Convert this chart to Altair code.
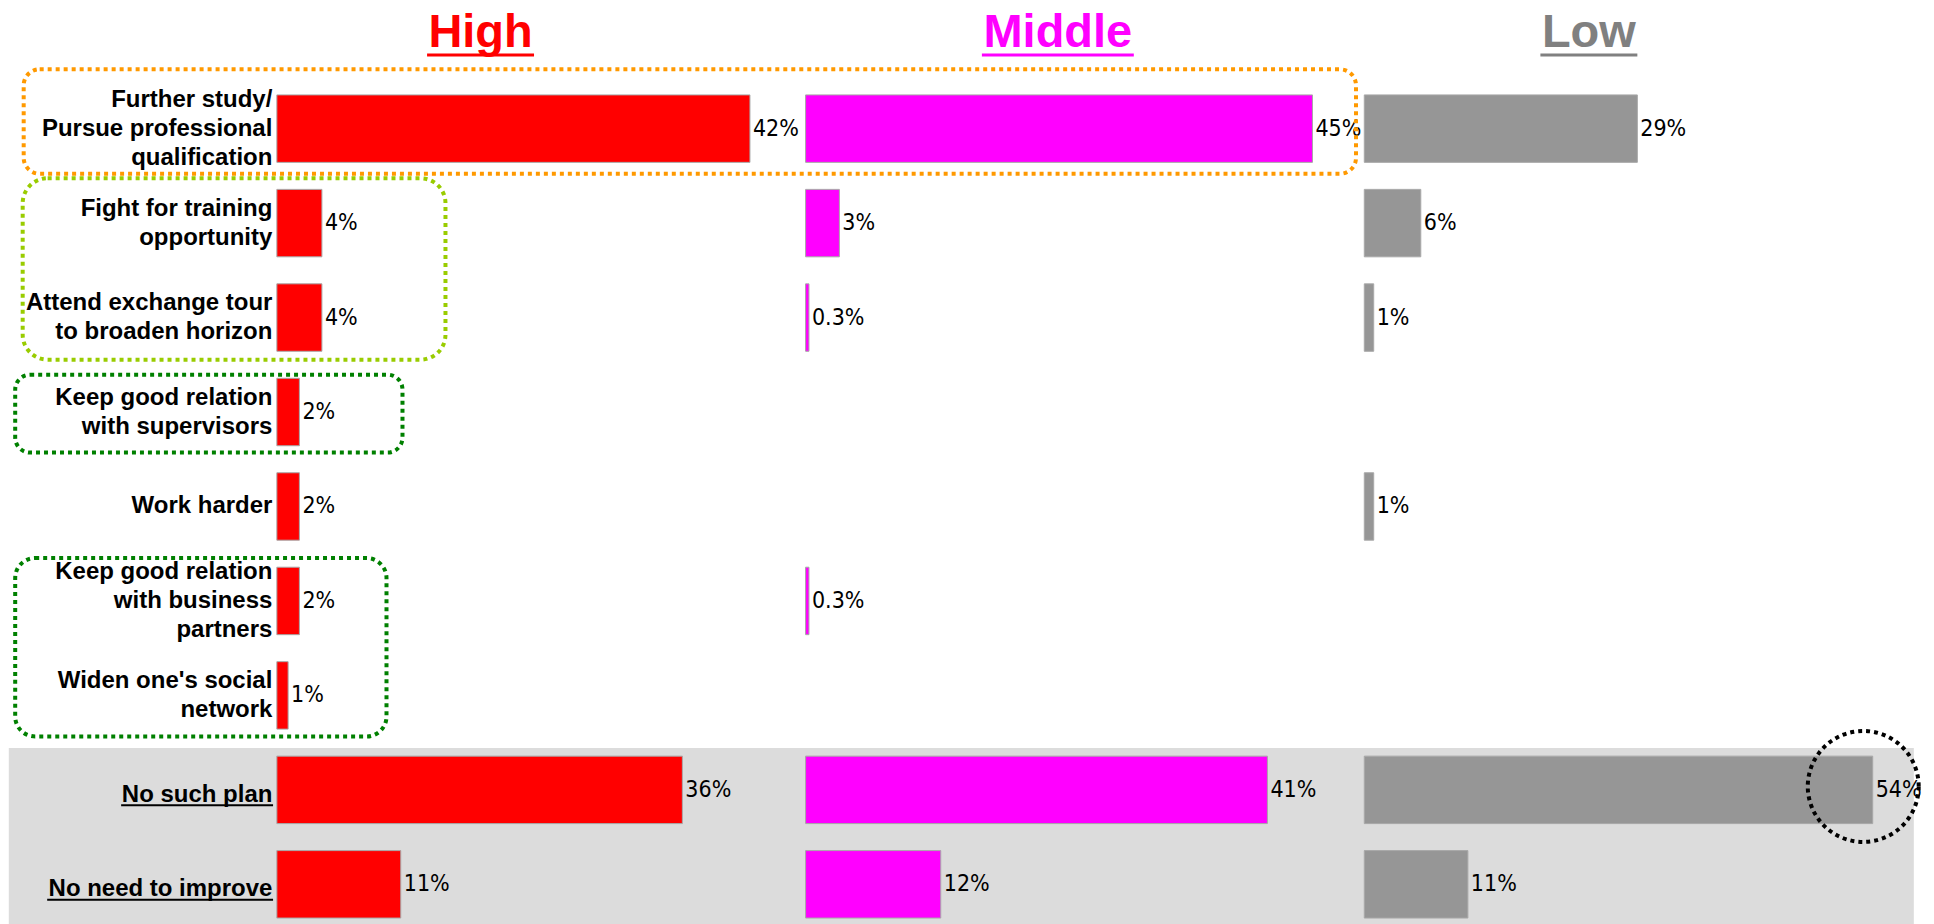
import altair as alt
import pandas as pd

# ---------------- data ----------------
categories = [
    "Further study/\nPursue professional\nqualification",
    "Fight for training\nopportunity",
    "Attend exchange tour\nto broaden horizon",
    "Keep good relation\nwith supervisors",
    "Work harder",
    "Keep good relation\nwith business\npartners",
    "Widen one's social\nnetwork",
    "No such plan",
    "No need to improve",
]
underlined = ["No such plan", "No need to improve"]
groups = ["High", "Middle", "Low"]
high = [42, 4, 4, 2, 2, 2, 1, 36, 11]
middle = [45, 3, 0.3, None, None, 0.3, None, 41, 12]
low = [29, 6, 1, None, 1, None, None, 54, 11]
series = [high, middle, low]

# ---------------- style / layout ----------------
bar_colors = ["#ff0000", "#ff00ff", "#969696"]
title_colors = ["#ff0000", "#ff00ff", "#808080"]
LABEL_FONT = "Liberation Sans, Arial, sans-serif"
NUM_FONT = "DejaVu Sans Condensed, Liberation Sans Narrow, sans-serif"
NUM_SIZE = 23
LINE_H = 29

PAGE_W, PAGE_H = 1934, 924
ORIGIN_Y = 89.4
PANEL_X = [276.5, 805.3, 1364.3]
PANEL_W = [528.8, 559.0, 550.0]
PX_PER_PCT = [11.27, 11.27, 9.42]
PANEL_H = 833
TITLE_CX = [480.3, 1057.7, 1589.0]
TITLE_UW = [107, 152, 97]
UNDERLINE_W = {"No such plan": 152, "No need to improve": 226}

yscale = alt.Scale(domain=categories, paddingInner=0.286, paddingOuter=0.05)


def rel_x(px, i):
    return px - PANEL_X[i]


def rel_y(py):
    return py - ORIGIN_Y


one = pd.DataFrame({"k": [0]})


def rounded_box(i, x0, x1, y0, y1, color, radius):
    return alt.Chart(one).mark_rect(
        fillOpacity=0, stroke=color, strokeWidth=4, strokeDash=[4, 4],
        cornerRadius=radius
    ).encode(
        x=alt.value(rel_x(x0, i)), x2=alt.value(rel_x(x1, i)),
        y=alt.value(rel_y(y0)), y2=alt.value(rel_y(y1)),
    )


def panel(i):
    df = pd.DataFrame({"cat": categories, "v": series[i]}).dropna()
    df["lab"] = df["v"].map(lambda v: f"{v:g}%")
    xdom = PANEL_W[i] / PX_PER_PCT[i]
    x = alt.X("v:Q", scale=alt.Scale(domain=[0, xdom], nice=False, zero=True), axis=None)
    y = alt.Y("cat:N", scale=yscale, axis=None)
    base = alt.Chart(df)
    bars = base.mark_bar(color=bar_colors[i], stroke="#a8a8a8", strokeWidth=1).encode(x=x, y=y)
    nums = base.mark_text(
        align="left", baseline="middle", dx=3, font=NUM_FONT, fontSize=NUM_SIZE, color="black"
    ).encode(x=x, y=y, text="lab:N")

    title = alt.Chart(one).mark_text(
        text=groups[i], font=LABEL_FONT, fontSize=47, fontWeight="bold",
        color=title_colors[i], align="center", baseline="alphabetic",
    ).encode(x=alt.value(rel_x(TITLE_CX[i], i)), y=alt.value(rel_y(46)))
    tline = alt.Chart(one).mark_rule(color=title_colors[i], strokeWidth=3).encode(
        x=alt.value(rel_x(TITLE_CX[i] - TITLE_UW[i] / 2, i)),
        x2=alt.value(rel_x(TITLE_CX[i] + TITLE_UW[i] / 2, i)),
        y=alt.value(rel_y(54.3)),
    )

    if i == 0:
        anchor = alt.Chart(one).mark_rect(color="white").encode(
            x=alt.value(rel_x(0, 0)), x2=alt.value(rel_x(PAGE_W, 0)),
            y=alt.value(rel_y(0)), y2=alt.value(rel_y(PAGE_H)),
        )
        grey = alt.Chart(one).mark_rect(color="#dcdcdc").encode(
            x=alt.value(rel_x(8.3, 0)), x2=alt.value(rel_x(1914.3, 0)),
            y=alt.value(rel_y(747.5)), y2=alt.value(rel_y(PAGE_H)),
        )
        cdf = pd.DataFrame({"cat": categories})
        cdf["u"] = cdf["cat"].isin(underlined)
        cdf["n"] = cdf["cat"].str.count("\n") + 1
        ycat = alt.Y("cat:N", scale=yscale, axis=None)
        layers = [anchor, grey, bars, nums]
        for n in sorted(cdf.loc[~cdf["u"], "n"].unique()):
            layers.append(
                alt.Chart(cdf).transform_filter(
                    f"!datum.u && datum.n == {int(n)}"
                ).mark_text(
                    align="right", baseline="middle", font=LABEL_FONT, fontSize=24,
                    fontWeight="bold", lineBreak="\n", lineHeight=LINE_H, color="black",
                    dy=-(int(n) - 1) * LINE_H / 2,
                ).encode(x=alt.value(-4.5), y=ycat, text="cat:N")
            )
        layers.append(
            alt.Chart(cdf).transform_filter("datum.u").mark_text(
                align="right", baseline="middle", font=LABEL_FONT, fontSize=24,
                fontWeight="bold", dy=5, color="black",
            ).encode(x=alt.value(-4.5), y=ycat, text="cat:N")
        )
        for c in underlined:
            layers.append(
                alt.Chart(pd.DataFrame({"cat": [c]})).mark_rule(
                    color="black", strokeWidth=2, yOffset=15.5
                ).encode(
                    y=ycat, x=alt.value(-3.8), x2=alt.value(-3.8 - UNDERLINE_W[c])
                )
            )
        layers += [title, tline]
    elif i == 1:
        layers = [bars, nums, title, tline]
    else:
        circle = alt.Chart(one).mark_point(
            shape="circle", size=111 * 111, filled=False, color="black",
            strokeWidth=4, strokeDash=[4, 4], opacity=1,
        ).encode(x=alt.value(rel_x(1863.5, 2)), y=alt.value(rel_y(786)))
        layers = [
            bars, nums, title, tline,
            rounded_box(2, 23, 1356, 68.5, 173, "#ff9900", 16),
            rounded_box(2, 22, 445, 177.5, 359, "#99cc00", 25),
            rounded_box(2, 14.5, 402, 374, 452, "#008000", 15),
            rounded_box(2, 14.5, 386, 557.5, 736, "#008000", 20),
            circle,
        ]
    return alt.layer(*layers).properties(width=PANEL_W[i], height=PANEL_H)


chart = alt.hconcat(
    panel(0), panel(1), panel(2), spacing=0, bounds="flush", padding=0
).resolve_scale(x="independent").configure_view(strokeWidth=0)

chart.save("out.html", embed_options={"renderer": "svg", "actions": False})
